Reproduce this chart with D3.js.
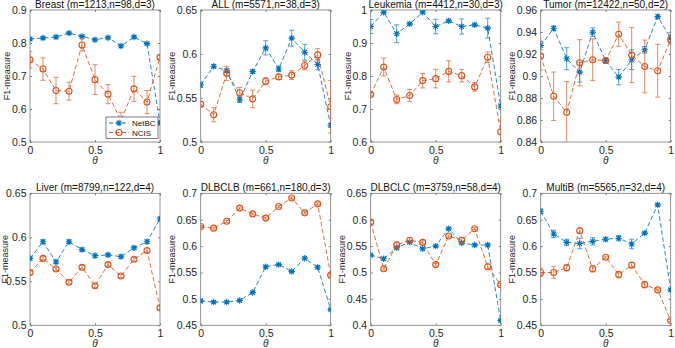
<!DOCTYPE html>
<html>
<head>
<meta charset="utf-8">
<script src="https://cdn.jsdelivr.net/npm/d3@7"></script>
<style>
body{margin:0;background:#fff}
svg{display:block;font-family:"Liberation Sans",Arial,sans-serif}
</style>
</head>
<body>
<div id="chart"></div>
<script>
var theta = [0,0.1,0.2,0.3,0.4,0.5,0.6,0.7,0.8,0.9,1];
var seriesNames = ["NetBC","NCIS"];
var titles = ["Breast (m=1213,n=98,d=3)","ALL (m=5571,n=38,d=3)","Leukemia (m=4412,n=30,d=3)","Tumor (m=12422,n=50,d=2)",
  "Liver (m=8799,n=122,d=4)","DLBCLB (m=661,n=180,d=3)","DLBCLC (m=3759,n=58,d=4)","MultiB (m=5565,n=32,d=4)"];

// Breast
var breastNet = [0.812,0.815,0.818,0.830,0.820,0.810,0.816,0.791,0.818,0.798,0.558];
var breastNetErr = [0.003,0.003,0.003,0.003,0.003,0.003,0.003,0.003,0.003,0.003,0.003];
var breastNcis = [0.749,0.721,0.656,0.654,0.794,0.689,0.645,0.565,0.661,0.621,0.757];
var breastNcisErr = [0.025,0.034,0.040,0.027,0.018,0.045,0.029,0.025,0.038,0.035,0.005];
var breastTicks = [0.5,0.6,0.7,0.8,0.9];
// ALL
var allNet = [0.565,0.586,0.581,0.548,0.580,0.607,0.583,0.618,0.602,0.588,0.519];
var allNetErr = [0.003,0.002,0.002,0.003,0.002,0.008,0.003,0.009,0.009,0.006,0.002];
var allNcis = [0.543,0.531,0.578,0.556,0.549,0.569,0.574,0.576,0.587,0.599,0.540];
var allNcisErr = [0.003,0.008,0.008,0.006,0.010,0.004,0.003,0.005,0.005,0.007,0.030];
var allTicks = [0.5,0.55,0.6,0.65];
// Leukemia
var leukNet = [0.950,0.993,0.928,0.958,0.993,0.950,0.967,0.950,0.955,0.945,0.709];
var leukNetErr = [0.021,0.003,0.027,0.004,0.003,0.022,0.005,0.023,0.005,0.030,0.005];
var leukNcis = [0.744,0.827,0.729,0.741,0.786,0.792,0.814,0.801,0.767,0.857,0.631];
var leukNcisErr = [0.004,0.027,0.013,0.018,0.022,0.028,0.032,0.019,0.013,0.016,0.035];
var leukTicks = [0.6,0.7,0.8,0.9,1];
// Tumor
var tumorNet = [0.9277,0.9434,0.9157,0.9035,0.9398,0.9139,0.899,0.9148,0.9238,0.954,0.9344];
var tumorNetErr = [0.004,0.002,0.010,0.009,0.004,0.002,0.007,0.009,0.003,0.002,0.003];
var tumorNcis = [0.9184,0.8816,0.867,0.912,0.9148,0.914,0.938,0.919,0.9087,0.9048,0.933];
var tumorNcisErr = [0.013,0.022,0.028,0.021,0.019,0.002,0.011,0.025,0.024,0.024,0.004];
var tumorTicks = [0.84,0.86,0.88,0.9,0.92,0.94,0.96];
// Liver
var liverNet = [0.576,0.595,0.572,0.595,0.586,0.579,0.580,0.578,0.588,0.595,0.621];
var liverNetErr = [0.002,0.002,0.002,0.002,0.002,0.002,0.002,0.002,0.002,0.002,0.002];
var liverNcis = [0.560,0.576,0.564,0.549,0.566,0.545,0.569,0.556,0.575,0.585,0.520];
var liverNcisErr = [0.002,0.002,0.002,0.002,0.002,0.002,0.002,0.002,0.002,0.002,0.002];
var liverTicks = [0.5,0.55,0.6,0.65];
// DLBCLB
var dlbclbNet = [0.496,0.494,0.494,0.497,0.512,0.561,0.565,0.552,0.577,0.560,0.480];
var dlbclbNetErr = [0.002,0.002,0.002,0.002,0.002,0.002,0.002,0.002,0.002,0.002,0.002];
var dlbclbNcis = [0.637,0.634,0.647,0.672,0.661,0.653,0.675,0.691,0.663,0.680,0.545];
var dlbclbNcisErr = [0.002,0.002,0.002,0.002,0.002,0.002,0.002,0.002,0.002,0.002,0.002];
var dlbclbTicks = [0.45,0.5,0.55,0.6,0.65,0.7];
// DLBCLC
var dlbclcNet = [0.533,0.526,0.547,0.557,0.545,0.550,0.583,0.556,0.552,0.552,0.409];
var dlbclcNetErr = [0.002,0.003,0.002,0.002,0.002,0.002,0.002,0.002,0.002,0.002,0.002];
var dlbclcNcis = [0.595,0.507,0.552,0.561,0.557,0.515,0.569,0.561,0.583,0.511,0.477];
var dlbclcNcisErr = [0.003,0.002,0.006,0.005,0.003,0.003,0.002,0.005,0.002,0.005,0.002];
var dlbclcTicks = [0.4,0.45,0.5,0.55,0.6,0.65];
// MultiB
var multiNet = [0.666,0.623,0.607,0.605,0.609,0.613,0.615,0.604,0.6245,0.678,0.517];
var multiNetErr = [0.004,0.007,0.006,0.010,0.007,0.003,0.005,0.009,0.002,0.003,0.003];
var multiNcis = [0.550,0.550,0.559,0.629,0.557,0.579,0.546,0.564,0.527,0.517,0.459];
var multiNcisErr = [0.008,0.011,0.006,0.005,0.006,0.002,0.006,0.005,0.006,0.002,0.002];
var multiTicks = [0.45,0.5,0.55,0.6,0.65,0.7];

var panels = [
  {net:breastNet, netErr:breastNetErr, ncis:breastNcis, ncisErr:breastNcisErr, ticks:breastTicks},
  {net:allNet, netErr:allNetErr, ncis:allNcis, ncisErr:allNcisErr, ticks:allTicks},
  {net:leukNet, netErr:leukNetErr, ncis:leukNcis, ncisErr:leukNcisErr, ticks:leukTicks},
  {net:tumorNet, netErr:tumorNetErr, ncis:tumorNcis, ncisErr:tumorNcisErr, ticks:tumorTicks},
  {net:liverNet, netErr:liverNetErr, ncis:liverNcis, ncisErr:liverNcisErr, ticks:liverTicks},
  {net:dlbclbNet, netErr:dlbclbNetErr, ncis:dlbclbNcis, ncisErr:dlbclbNcisErr, ticks:dlbclbTicks},
  {net:dlbclcNet, netErr:dlbclcNetErr, ncis:dlbclcNcis, ncisErr:dlbclcNcisErr, ticks:dlbclcTicks},
  {net:multiNet, netErr:multiNetErr, ncis:multiNcis, ncisErr:multiNcisErr, ticks:multiTicks}
];

var W = 675, H = 348;
var colLeft = [30, 200.7, 370.7, 540.7];
var rowTop = [10, 193.3];
var pw = 130, ph = 132;
var blue = "#0072BD", orange = "#D95319", axisCol = "#262626";

var svg = d3.select("#chart").append("svg")
  .attr("width", W).attr("height", H)
  .style("background", "#FFFFFF");

var defs = svg.append("defs");

function star(g, x, y, c){
  var r = 3.2, d = r*0.72;
  g.append("path")
    .attr("d", "M"+(x-r)+","+y+"H"+(x+r)+"M"+x+","+(y-r)+"V"+(y+r)+
      "M"+(x-d)+","+(y-d)+"L"+(x+d)+","+(y+d)+"M"+(x-d)+","+(y+d)+"L"+(x+d)+","+(y-d))
    .attr("stroke", c).attr("stroke-width", 1.1).attr("fill", "none");
}
function circ(g, x, y, c){
  g.append("circle").attr("cx", x).attr("cy", y).attr("r", 3)
    .attr("fill", "none").attr("stroke", c).attr("stroke-width", 1.1);
}

panels.forEach(function(p, i){
  var left = colLeft[i % 4], top = rowTop[Math.floor(i / 4)];
  var x = d3.scaleLinear().domain([0, 1]).range([left, left + pw]);
  var y = d3.scaleLinear().domain([p.ticks[0], p.ticks[p.ticks.length - 1]]).range([top + ph, top]);
  var fmt = function(d){ return String(+d.toFixed(2)); };

  var g = svg.append("g");
  defs.append("clipPath").attr("id", "clip" + i)
    .append("rect").attr("x", left).attr("y", top).attr("width", pw).attr("height", ph);

  // axes, ticks pointing inward on all four sides
  var ya = g.append("g").attr("transform", "translate(" + left + ",0)")
    .call(d3.axisLeft(y).tickValues(p.ticks).tickSize(-2).tickPadding(3.5).tickFormat(fmt));
  g.append("g").attr("transform", "translate(" + (left + pw) + ",0)")
    .call(d3.axisRight(y).tickValues(p.ticks).tickSize(-2).tickFormat(""));
  g.append("g").attr("transform", "translate(0," + (top + ph) + ")")
    .call(d3.axisBottom(x).tickValues([0, 0.5, 1]).tickSize(-2).tickPadding(4.5).tickFormat(fmt));
  g.append("g").attr("transform", "translate(0," + top + ")")
    .call(d3.axisTop(x).tickValues([0, 0.5, 1]).tickSize(-2).tickFormat(""));
  g.selectAll(".domain").remove();
  g.selectAll(".tick line").attr("stroke", axisCol).attr("stroke-width", 0.6);
  g.selectAll(".tick text").attr("fill", axisCol).style("font-size", "10.5px");

  g.append("rect").attr("x", left).attr("y", top).attr("width", pw).attr("height", ph)
    .attr("fill", "none").attr("stroke", "#7a7a7a").attr("stroke-width", 0.8);

  var maxW = 0;
  ya.selectAll("text").each(function(){ maxW = Math.max(maxW, this.getComputedTextLength()); });

  g.append("text").attr("x", left + pw / 2).attr("y", top - 2.5)
    .attr("text-anchor", "middle").attr("fill", "#111").style("font-size", "10px")
    .text(titles[i]);
  var lbx = Math.max(7.5, left - 3.5 - maxW - 1.5);
  g.append("text").attr("transform", "translate(" + lbx + "," + (top + ph / 2) + ") rotate(-90)")
    .attr("text-anchor", "middle").attr("fill", axisCol).style("font-size", "9px")
    .text("F1-measure");
  g.append("text").attr("x", left + pw / 2).attr("y", top + ph + 21.5)
    .attr("text-anchor", "middle").attr("fill", axisCol).style("font-size", "10px")
    .style("font-style", "italic").text("\u03B8");

  var plot = g.append("g").attr("clip-path", "url(#clip" + i + ")");
  var line = d3.line().x(function(d, j){ return x(theta[j]); }).y(function(d){ return y(d); });

  [[p.net, p.netErr, blue, star], [p.ncis, p.ncisErr, orange, circ]].forEach(function(s){
    var vals = s[0], errs = s[1], c = s[2];
    plot.append("path").datum(vals).attr("d", line)
      .attr("fill", "none").attr("stroke", c).attr("stroke-width", 1)
      .attr("stroke-dasharray", "4.5,2.5").attr("opacity", 0.85);
    var eb = plot.append("g").attr("stroke", c).attr("stroke-width", 0.9).attr("opacity", 0.75);
    vals.forEach(function(v, j){
      var cx = x(theta[j]), y1 = y(v - errs[j]), y2 = y(v + errs[j]);
      eb.append("path").attr("d", "M" + cx + "," + y1 + "V" + y2 +
        "M" + (cx - 2.5) + "," + y1 + "H" + (cx + 2.5) + "M" + (cx - 2.5) + "," + y2 + "H" + (cx + 2.5));
    });
    vals.forEach(function(v, j){ s[3](plot, x(theta[j]), y(v), c); });
  });

  // legend in the first panel
  if (i === 0) {
    var lg = g.append("g");
    var lx = left + pw - 54, ly = top + ph - 25;
    lg.append("rect").attr("x", lx).attr("y", ly).attr("width", 52).attr("height", 21.5)
      .attr("fill", "#fff").attr("stroke", axisCol).attr("stroke-width", 0.6);
    [[blue, star], [orange, circ]].forEach(function(s, k){
      var yy = ly + 6 + k * 9.5;
      lg.append("line").attr("x1", lx + 3).attr("x2", lx + 23).attr("y1", yy).attr("y2", yy)
        .attr("stroke", s[0]).attr("stroke-dasharray", "4,2.5");
      s[1](lg, lx + 13, yy, s[0]);
      lg.append("text").attr("x", lx + 26).attr("y", yy + 3).attr("fill", "#111")
        .style("font-size", "8px").text(seriesNames[k]);
    });
  }
});
</script>
</body>
</html>
